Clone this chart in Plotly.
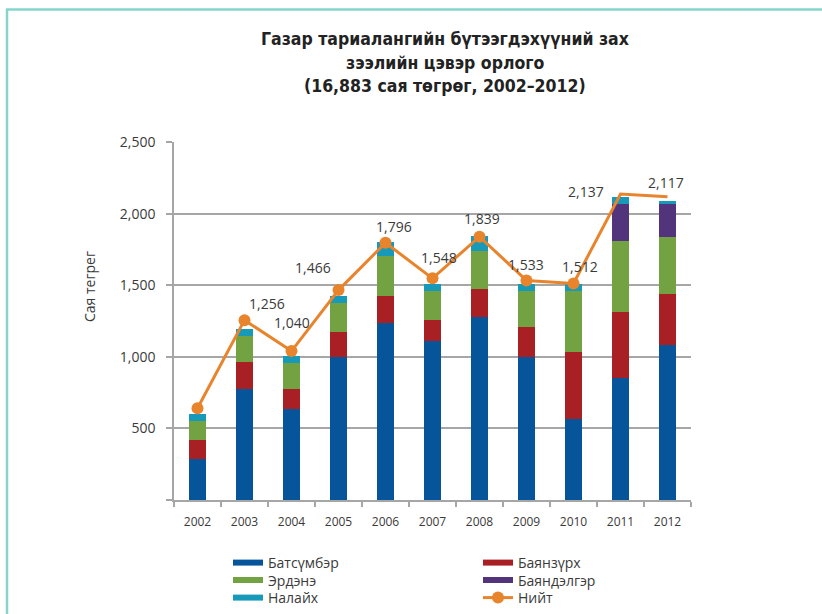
import plotly.graph_objects as go

years = ["2002", "2003", "2004", "2005", "2006", "2007", "2008", "2009", "2010", "2011", "2012"]

batsumber = [287, 776, 636, 998, 1238, 1107, 1275, 1000, 566, 855, 1081]
bayanzurkh = [133, 189, 140, 177, 189, 152, 200, 210, 469, 460, 360]
erdene = [132, 182, 182, 203, 279, 203, 266, 252, 427, 496, 398]
bayandelger = [0, 0, 0, 0, 0, 0, 0, 0, 0, 259, 231]
nalaikh = [49, 49, 49, 49, 98, 48, 105, 48, 48, 49, 21]

total = [641, 1256, 1040, 1466, 1796, 1548, 1839, 1533, 1512, 2137, 2117]
total_labels = ["", "1,256", "1,040", "1,466", "1,796", "1,548", "1,839", "1,533", "1,512", "2,137", "2,117"]

names = ["Батсүмбэр", "Баянзүрх", "Эрдэнэ", "Баяндэлгэр", "Налайх"]
colors = ["#06559a", "#a81f24", "#73a242", "#52347d", "#1799b9"]
line_color = "#e8842c"
total_name = "Нийт"

# label offsets in pixels (styling, relative to each point)
label_dx = [0, 22, 0, -26, 8, 6, 2, -1, 6, -35, -2]
label_dy = [0, 17, 29, 23, 16, 21, 18, 16, 17, 2, 14]

font_main = "Open Sans, DejaVu Sans, sans-serif"
txt = "#3a3a3a"

# plot-area geometry in pixels (for paper coordinate conversion)
PL, PR, PT, PB = 174, 691, 142, 500
PW, PH = PR - PL, PB - PT


def px(xpix):
    return (xpix - PL) / PW


def py(ypix):
    return (PB - ypix) / PH


# legend slot for each series: (column x px, row y px)
legend_slots = {
    "Батсүмбэр": (228, 563), "Баянзүрх": (478, 563),
    "Эрдэнэ": (228, 580.5), "Баяндэлгэр": (478, 580.5),
    "Налайх": (228, 598), "Нийт": (478, 598),
}
legend_ids = {n: ("legend" if k == 0 else "legend%d" % (k + 1))
              for k, n in enumerate(list(legend_slots.keys()))}

fig = go.Figure()
series = [batsumber, bayanzurkh, erdene, bayandelger, nalaikh]
for name, vals, col in zip(names, series, colors):
    fig.add_trace(go.Bar(x=years, y=vals, name=name, marker=dict(color=col, line=dict(width=0)),
                         width=0.38, showlegend=False, legendgroup=name))

marker_sizes = [12] * 9 + [0, 0]
fig.add_trace(go.Scatter(x=years, y=total, name=total_name, mode="lines+markers",
                         line=dict(color=line_color, width=3),
                         marker=dict(color=line_color, size=marker_sizes, opacity=1,
                                     line=dict(width=0)),
                         showlegend=False, legendgroup=total_name))

# legend entries (flat swatches like the original)
for name, col in zip(names, colors):
    fig.add_trace(go.Scatter(x=[None], y=[None], mode="lines", name=name,
                             line=dict(color=col, width=6), legendgroup=name,
                             legend=legend_ids[name]))
fig.add_trace(go.Scatter(x=[None], y=[None], mode="lines+markers", name=total_name,
                         line=dict(color=line_color, width=3),
                         marker=dict(color=line_color, size=12), legendgroup=total_name,
                         legend=legend_ids[total_name]))

for i, (v, lab) in enumerate(zip(total, total_labels)):
    if lab:
        fig.add_annotation(x=i, y=v, text=lab, showarrow=False, xref="x", yref="y",
                           xshift=label_dx[i], yshift=label_dy[i],
                           font=dict(family=font_main, size=14, color=txt))

title_font = dict(family="DejaVu Sans Condensed, Liberation Sans Narrow, Roboto, sans-serif",
                  size=17.5, color="#222222")
title_lines = ["Газар тариалангийн бүтээгдэхүүний зах", "зээлийн цэвэр орлого", "(16,883 сая төгрөг, 2002–2012)"]
title_y = [39, 63, 86]
for line, yy in zip(title_lines, title_y):
    fig.add_annotation(text="<b>" + line + "</b>", xref="paper", yref="paper",
                       x=px(445), y=py(yy), xanchor="center", yanchor="middle",
                       showarrow=False, font=title_font)

fig.add_annotation(text="Сая тегрег", textangle=-90, xref="paper", yref="paper",
                   x=px(89), y=py(287), xanchor="center", yanchor="middle",
                   showarrow=False, font=dict(family=font_main, size=14, color=txt))

# frame lines
frame = "#84d6ca"
fig.add_shape(type="line", xref="paper", yref="paper", x0=px(7), x1=px(7),
              y0=py(616), y1=py(9), line=dict(color=frame, width=2.5))
fig.add_shape(type="line", xref="paper", yref="paper", x0=px(6), x1=px(824),
              y0=py(9.5), y1=py(9.5), line=dict(color=frame, width=2.5))

legend_layout = {}
for name, (lx, ly) in legend_slots.items():
    legend_layout[legend_ids[name]] = dict(
        orientation="v", xref="container", yref="container",
        x=lx / 822, y=1 - ly / 614, xanchor="left", yanchor="middle",
        bgcolor="rgba(0,0,0,0)", font=dict(size=14, color=txt, family=font_main))

fig.update_layout(
    width=822, height=614,
    margin=dict(l=PL, r=822 - PR, t=PT, b=614 - PB, autoexpand=False),
    paper_bgcolor="white", plot_bgcolor="white",
    barmode="stack",
    font=dict(family=font_main, color=txt),
    xaxis=dict(type="category", range=[-0.5, 10.5], showgrid=False, showline=True,
               linecolor="#a6a6a6", linewidth=1.5, ticks="outside", tickson="boundaries",
               ticklen=5, tickcolor="#a6a6a6", tickwidth=1.5, ticklabelstandoff=10,
               tickfont=dict(size=12, color=txt)),
    yaxis=dict(range=[0, 2500], tickvals=[0, 500, 1000, 1500, 2000, 2500],
               ticktext=["", "500", "1,000", "1,500", "2,000", "2,500"],
               showgrid=True, gridcolor="#a6a6a6", gridwidth=1.5, zeroline=False,
               showline=True, linecolor="#a6a6a6", linewidth=1.5,
               ticks="outside", ticklen=6, tickcolor="#a6a6a6", tickwidth=1.5,
               ticklabelstandoff=8, tickfont=dict(size=14, color=txt)),
    showlegend=True,
    **legend_layout,
)

fig.write_html("out.html", config={"displayModeBar": False},
               post_script="document.body.style.margin='0';document.body.style.overflow='hidden';")
